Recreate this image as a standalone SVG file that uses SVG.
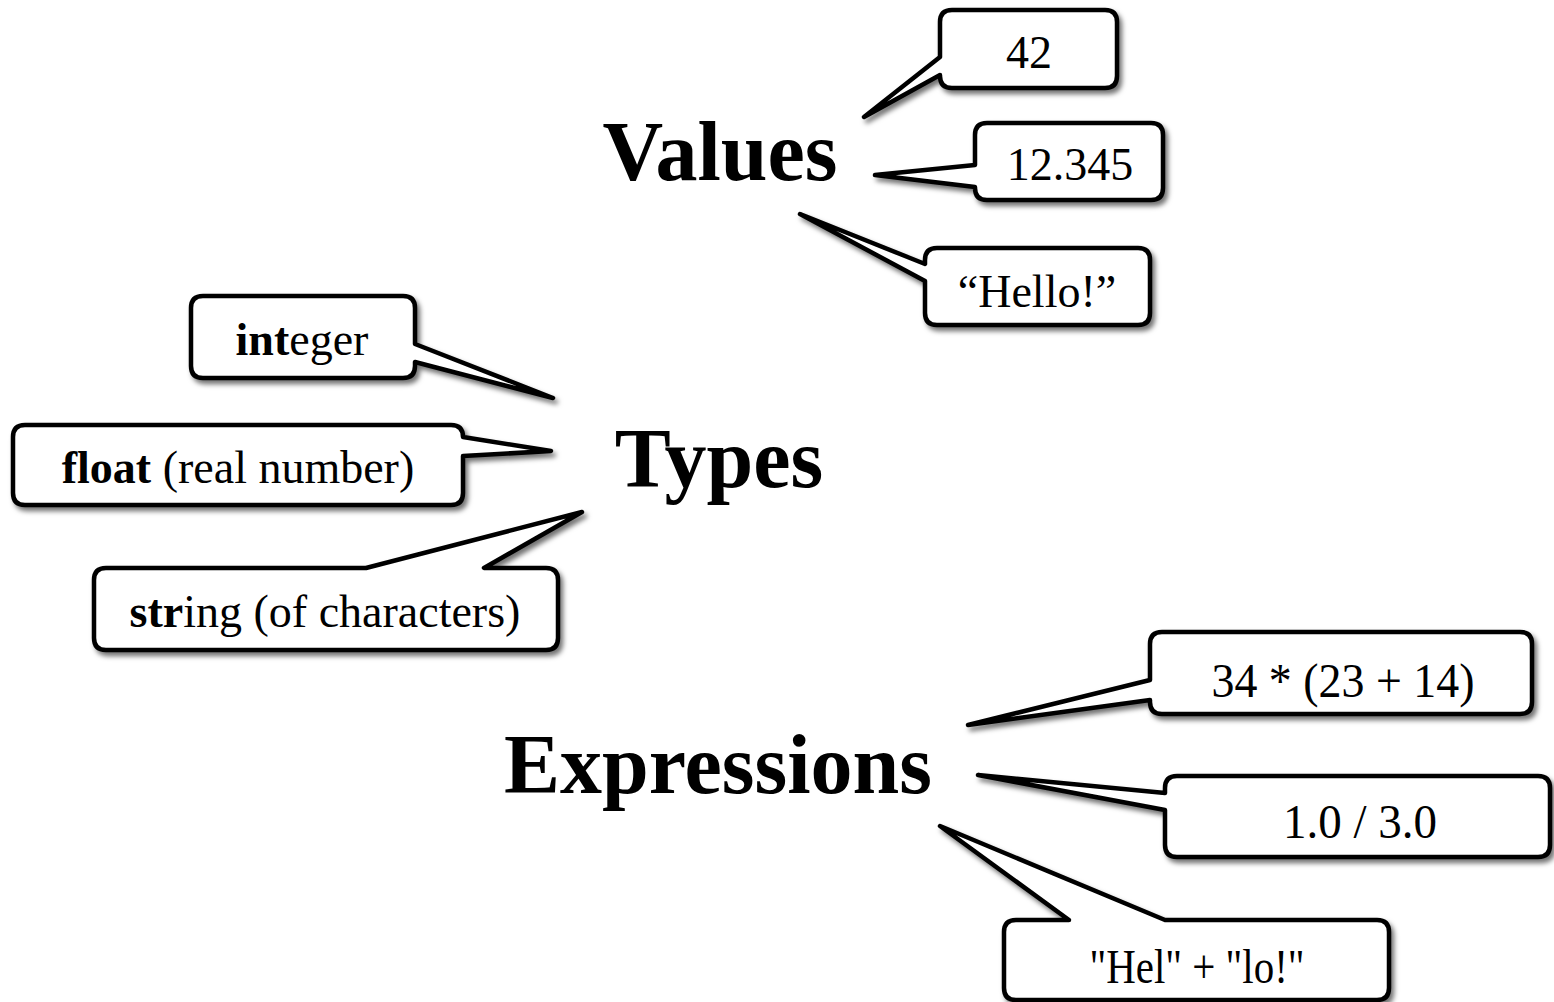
<svg xmlns="http://www.w3.org/2000/svg" width="1554" height="1002" viewBox="0 0 1554 1002">
  <defs>
    <filter id="shadow" x="-10%" y="-10%" width="130%" height="140%">
      <feDropShadow dx="3" dy="4" stdDeviation="2.5" flood-color="#000" flood-opacity="0.55"/>
    </filter>
    <style>
      .callout { fill: #fff; stroke: #000; stroke-width: 4.5; stroke-linejoin: round; filter: url(#shadow); }
      .title { font-family: "Liberation Serif", "Times New Roman", serif; font-weight: bold; font-size: 84px; fill: #000; text-anchor: middle; }
      .lbl { font-family: "Liberation Serif", "Times New Roman", serif; font-size: 46px; fill: #000; text-anchor: middle; }
      .code { font-family: "Liberation Serif", "Times New Roman", serif; font-size: 49px; fill: #000; text-anchor: middle; }
      .b { font-weight: bold; }
    </style>
  </defs>
  <rect width="1554" height="1002" fill="#fff"/>

  <g id="values">
    <text class="title" x="720" y="180">Values</text>
  </g>
  <g id="types">
    <text class="title" x="719" y="487">Types</text>
  </g>
  <g id="expressions">
    <text class="title" x="718" y="793">Expressions</text>
  </g>

  <g id="callout-42">
    <path class="callout" d="M952,10 H1105 Q1117,10 1117,22 V76 Q1117,88 1105,88 H952 Q940,88 940,76 V75 L864,117 L940,57 V22 Q940,10 952,10 Z"/>
    <text class="lbl" x="1029" y="68">42</text>
  </g>
  <g id="callout-12345">
    <path class="callout" d="M987,123 H1151 Q1163,123 1163,135 V188 Q1163,200 1151,200 H987 Q975,200 975,188 V187 L875,175 L975,165 V135 Q975,123 987,123 Z"/>
    <text class="lbl" x="1070" y="180">12.345</text>
  </g>
  <g id="callout-hello">
    <path class="callout" d="M937,248 H1138 Q1150,248 1150,260 V313 Q1150,325 1138,325 H937 Q925,325 925,313 V281 L800,214 L925,264 V260 Q925,248 937,248 Z"/>
    <text class="lbl" x="1037" y="307">“Hello!”</text>
  </g>

  <g id="callout-integer">
    <path class="callout" d="M203,296 H403 Q415,296 415,308 V344 L553,398 L415,362 V366 Q415,378 403,378 H203 Q191,378 191,366 V308 Q191,296 203,296 Z"/>
    <text class="lbl" x="302" y="355"><tspan class="b">int</tspan>eger</text>
  </g>
  <g id="callout-float">
    <path class="callout" d="M25,425 H451 Q463,425 463,437 L551,451 L463,456 V493 Q463,505 451,505 H25 Q13,505 13,493 V437 Q13,425 25,425 Z"/>
    <text class="lbl" x="238" y="483"><tspan class="b">float</tspan> (real number)</text>
  </g>
  <g id="callout-string">
    <path class="callout" d="M106,568 H366 L582,512 L484,568 H546 Q558,568 558,580 V638 Q558,650 546,650 H106 Q94,650 94,638 V580 Q94,568 106,568 Z"/>
    <text class="lbl" x="325" y="627"><tspan class="b">str</tspan>ing (of characters)</text>
  </g>

  <g id="callout-expr1">
    <path class="callout" d="M1162,632 H1520 Q1532,632 1532,644 V702 Q1532,714 1520,714 H1162 Q1150,714 1150,702 V700 L968,725 L1150,680 V644 Q1150,632 1162,632 Z"/>
    <text class="code" x="1343" y="697" textLength="263" lengthAdjust="spacingAndGlyphs">34 * (23 + 14)</text>
  </g>
  <g id="callout-expr2">
    <path class="callout" d="M1177,776 H1538 Q1550,776 1550,788 V845 Q1550,857 1538,857 H1177 Q1165,857 1165,845 V810 L978,775 L1165,793 V788 Q1165,776 1177,776 Z"/>
    <text class="code" x="1360" y="838" textLength="154" lengthAdjust="spacingAndGlyphs">1.0 / 3.0</text>
  </g>
  <g id="callout-expr3">
    <path class="callout" d="M1016,920 H1069 L940,826 L1165,920 H1377 Q1389,920 1389,932 V988 Q1389,1000 1377,1000 H1016 Q1004,1000 1004,988 V932 Q1004,920 1016,920 Z"/>
    <text class="code" x="1197" y="983" textLength="215" lengthAdjust="spacingAndGlyphs">"Hel" + "lo!"</text>
  </g>

  <g id="connectors"></g>
</svg>
